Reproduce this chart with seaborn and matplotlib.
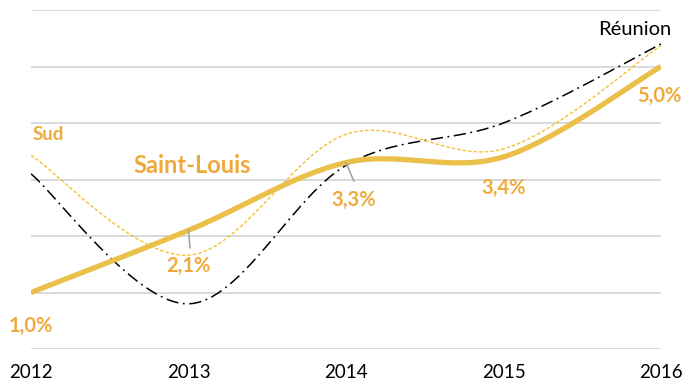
import numpy as np
import pandas as pd
import matplotlib
matplotlib.use("Agg")
import matplotlib.pyplot as plt
import seaborn as sns

years = [2012, 2013, 2014, 2015, 2016]
saint_louis = [1.0, 2.1, 3.3, 3.4, 5.0]
sud = [3.43, 1.66, 3.80, 3.54, 5.37]
reunion = [3.10, 0.80, 3.25, 4.00, 5.40]
value_labels = ["1,0%", "2,1%", "3,3%", "3,4%", "5,0%"]

GOLD = "#EBC04A"
ORANGE = "#F0A93B"
SUD_COL = "#F2C12E"


def smooth(xs, ys, n=60):
    """Cubic Bezier smoothing through every point (spreadsheet-style)."""
    xs = np.asarray(xs, float)
    ys = np.asarray(ys, float)
    px = np.concatenate([[xs[0]], xs, [xs[-1]]])
    py = np.concatenate([[ys[0]], ys, [ys[-1]]])
    out_x, out_y = [], []
    t = np.linspace(0, 1, n)
    for i in range(len(xs) - 1):
        p0 = np.array([xs[i], ys[i]])
        p3 = np.array([xs[i + 1], ys[i + 1]])
        prev = np.array([px[i], py[i]])
        nxt = np.array([px[i + 3], py[i + 3]])
        c1 = p0 + (p3 - prev) / 6.0
        c2 = p3 - (nxt - p0) / 6.0
        b = ((1 - t) ** 3)[:, None] * p0 + (3 * (1 - t) ** 2 * t)[:, None] * c1 \
            + (3 * (1 - t) * t ** 2)[:, None] * c2 + (t ** 3)[:, None] * p3
        out_x.append(b[:, 0])
        out_y.append(b[:, 1])
    return np.concatenate(out_x), np.concatenate(out_y)


sns.set_theme(style="white")
plt.rcParams["font.family"] = ["Lato", "DejaVu Sans"]

fig = plt.figure(figsize=(6.86, 3.87), dpi=100)
ax = fig.add_axes([31 / 686, 1 - 349 / 387, 630 / 686, 339 / 387])

frames = []
for name, vals in [("Réunion", reunion), ("Sud", sud), ("Saint-Louis", saint_louis)]:
    sx, sy = smooth(years, vals)
    frames.append(pd.DataFrame({"année": sx, "taux": sy, "zone": name}))
df = pd.concat(frames, ignore_index=True)

sns.lineplot(data=df[df.zone == "Réunion"], x="année", y="taux", ax=ax,
             color="black", lw=1.1, sort=False, estimator=None)
ax.lines[-1].set_dashes([8, 3, 1.2, 3])
sns.lineplot(data=df[df.zone == "Sud"], x="année", y="taux", ax=ax,
             color=SUD_COL, lw=1.0, sort=False, estimator=None)
ax.lines[-1].set_dashes([2.5, 1.5])
sns.lineplot(data=df[df.zone == "Saint-Louis"], x="année", y="taux", ax=ax,
             color=GOLD, lw=3.8, sort=False, estimator=None,
             solid_capstyle="butt")

ax.set_xlim(2012, 2016)
ax.set_ylim(0, 6)
ax.set_yticks(range(0, 7))
ax.set_yticklabels([])
ax.set_xticks(years)
ax.set_xticklabels([str(y) for y in years], fontsize=13.5, color="black")
ax.tick_params(axis="x", length=0, pad=11)
ax.tick_params(axis="y", length=0)
ax.grid(axis="y", color="#D9D9D9", lw=1.4)
ax.grid(axis="x", visible=False)
for s in ax.spines.values():
    s.set_visible(False)
ax.set_xlabel("")
ax.set_ylabel("")
for l in ax.get_xticklabels():
    l.set_clip_on(False)

# leader lines for two of the value labels
ax.plot([2013.0, 2013.01], [saint_louis[1], 1.79], color="#A6A6A6", lw=1.2, zorder=5)
ax.plot([2014.0, 2014.05], [saint_louis[2], 2.97], color="#A6A6A6", lw=1.2, zorder=5)

label_pos = [(2012.0, 0.41), (2013.0, 1.47), (2014.05, 2.64), (2015.0, 2.85), (2015.99, 4.48)]
for (lx, ly), txt in zip(label_pos, value_labels):
    ax.text(lx, ly, txt, ha="center", va="center", fontsize=14.5,
            fontweight="bold", color=ORANGE, clip_on=False)

ax.text(2012.01, 3.79, "Sud", ha="left", va="center", fontsize=13.5,
        fontweight="bold", color=ORANGE)
ax.text(2012.65, 3.24, "Saint-Louis", ha="left", va="center", fontsize=17,
        fontweight="bold", color=ORANGE)
ax.text(2015.835, 5.65, "Réunion", ha="center", va="center", fontsize=14.5,
        color="black", clip_on=False)

fig.savefig("out.png", dpi=100)
